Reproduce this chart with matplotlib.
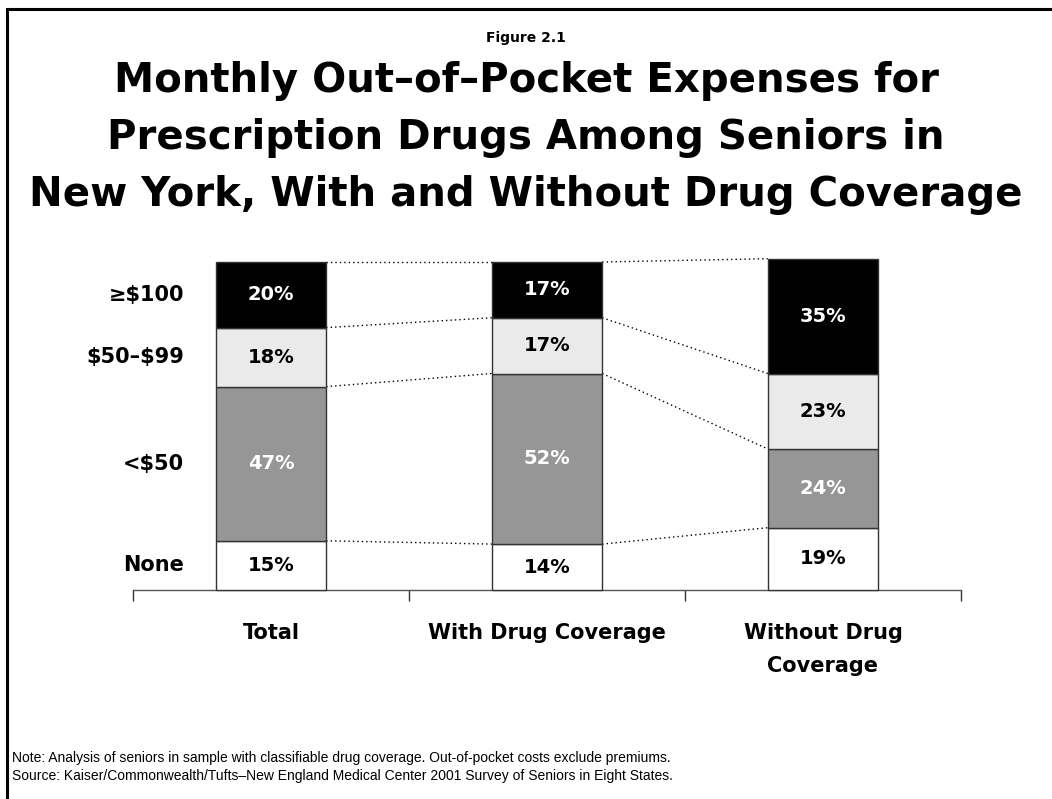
import matplotlib
matplotlib.use("Agg")
import matplotlib.pyplot as plt
from matplotlib.patches import Rectangle

plt.rcParams["text.parse_math"] = False

# Data
categories = ["Total", "With Drug Coverage", "Without Drug\nCoverage"]
tiers = ["None", "<$50", "$50\u2013$99", "\u2265$100"]
none_pct = [15, 14, 19]
under50_pct = [47, 52, 24]
mid_pct = [18, 17, 23]
over100_pct = [20, 17, 35]

series = [none_pct, under50_pct, mid_pct, over100_pct]
fills = ["#FFFFFF", "#969696", "#EAEAEA", "#000000"]
text_colors = ["black", "white", "black", "white"]

W, H = 1052, 799
fig = plt.figure(figsize=(W / 100, H / 100), dpi=100)
fig.patch.set_facecolor("white")

# Outer frame (open at right and bottom edges)
fig.add_artist(Rectangle((7 / W, -0.05), 1.2, 1 - 9 / H + 0.05,
                         transform=fig.transFigure, fill=False,
                         edgecolor="black", linewidth=2.2))

x0, x1 = 133, 961
y_base, y_top = 590, 262
ax = fig.add_axes([x0 / W, (H - y_base) / H, (x1 - x0) / W, (y_base - y_top) / H])
ax.set_xlim(-0.5, 2.5)
ax.set_ylim(0, 100)

bar_w = 0.40
xs = list(range(len(categories)))
bottoms = [0.0] * len(categories)
tops_by_tier = []
for vals, fc, tc in zip(series, fills, text_colors):
    ax.bar(xs, vals, bottom=bottoms, width=bar_w, color=fc,
           edgecolor="#333333", linewidth=1.0, clip_on=False, zorder=3)
    for i, v in enumerate(vals):
        ax.text(xs[i], bottoms[i] + v / 2, f"{v}%", ha="center", va="center",
                color=tc, fontsize=14, fontweight="heavy",
                family="DejaVu Sans", zorder=4)
    bottoms = [b + v for b, v in zip(bottoms, vals)]
    tops_by_tier.append(list(bottoms))

# Dotted connectors between segment boundaries of neighbouring bars
for tops in tops_by_tier:
    for i in range(len(xs) - 1):
        ax.plot([xs[i] + bar_w / 2, xs[i + 1] - bar_w / 2], [tops[i], tops[i + 1]],
                color="black", linewidth=1.0, linestyle=(0, (1, 2.2)),
                clip_on=False, zorder=2)

# Tier labels aligned with segments of the first bar
b = 0
for name, vals in zip(tiers, series):
    ax.text(-0.315, b + vals[0] / 2, name, ha="right", va="center",
            fontsize=15, fontweight="bold", family="DejaVu Sans")
    b += vals[0]

# Category axis
for s in ["top", "right", "left"]:
    ax.spines[s].set_visible(False)
ax.spines["bottom"].set_color("#555555")
ax.spines["bottom"].set_linewidth(1.0)
ax.set_yticks([])
ax.set_xticks([-0.5, 0.5, 1.5, 2.5])
ax.set_xticklabels([])
ax.tick_params(axis="x", direction="out", length=8, width=1.0, color="#333333")
for i, c in enumerate(categories):
    ax.text(xs[i], -10, c, ha="center", va="top", fontsize=15,
            fontweight="bold", family="DejaVu Sans", linespacing=1.85,
            transform=ax.transData)

# Titles
fig.text(0.5, 1 - 38 / H, "Figure 2.1", ha="center", va="center",
         fontsize=10, fontweight="bold", family="DejaVu Sans")
title_lines = ["Monthly Out\u2013of\u2013Pocket Expenses for",
               "Prescription Drugs Among Seniors in",
               "New York, With and Without Drug Coverage"]
for k, line in enumerate(title_lines):
    fig.text(0.5, 1 - (81 + 57 * k) / H, line, ha="center", va="center",
             fontsize=29, fontweight="bold", family="DejaVu Sans")

# Footnotes
fig.text(12 / W, 1 - 758 / H,
         "Note: Analysis of seniors in sample with classifiable drug coverage. "
         "Out-of-pocket costs exclude premiums.",
         ha="left", va="center", fontsize=10, family="Liberation Sans")
fig.text(12 / W, 1 - 776 / H,
         "Source: Kaiser/Commonwealth/Tufts\u2013New England Medical Center 2001 "
         "Survey of Seniors in Eight States.",
         ha="left", va="center", fontsize=10, family="Liberation Sans")

fig.savefig("out.png", dpi=100)
